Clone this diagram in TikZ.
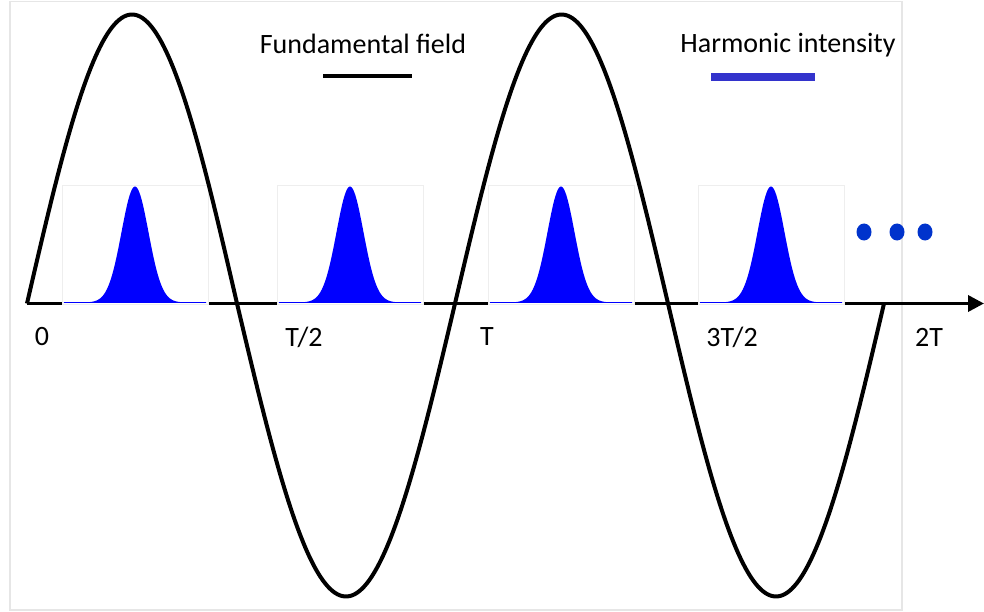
\documentclass[tikz,border=0pt]{standalone}
\usepackage{fontspec}
\setmainfont{Carlito}
\usetikzlibrary{arrows.meta}
\definecolor{pulseblue}{HTML}{0000FF}
\definecolor{legblue}{HTML}{3333CC}
\definecolor{dotblue}{HTML}{0033CC}
\definecolor{framegray}{HTML}{E6E6E6}
\definecolor{boxgray}{HTML}{EEEEEE}
\tikzset{
  lbl/.style={font=\fontsize{28}{32}\selectfont, inner sep=0pt, anchor=center},
  wave/.style={line width=4pt, black, line join=round},
  axisline/.style={line width=3.5pt, black, -{Triangle[length=16pt,width=16pt]}},
  pulsebox/.style={draw=boxgray, line width=0.8pt, fill=white, minimum width=146pt, minimum height=119pt, inner sep=0pt, outer sep=0pt},
  bluedot/.style={ellipse, fill=dotblue, minimum width=15pt, minimum height=17pt, inner sep=0pt},
}
\usetikzlibrary{shapes.geometric}
\begin{document}
\begin{tikzpicture}[x=1pt,y=-1pt]
\useasboundingbox (0,0) rectangle (984,612);
% frame
\draw[framegray, line width=1.5pt] (10,1.5) rectangle (902,610);
% axis
\coordinate (o) at (27,303.5);
\coordinate (tip) at (984,303.5);
\draw[axisline] (o) -- (tip);
% pulse boxes
\foreach \c/\n in {135/p1, 350/p2, 561/p3, 771/p4}{
  \node[pulsebox] (\n) at (\c,244.5) {};
  \fill[pulseblue] plot[domain=\c-72:\c+72, samples=120] (\x,{302.5-116*exp(-((\x-\c)/13.5)^2/2)}) -- cycle;
  \draw[pulseblue, line width=1.6pt] (\c-71,302.5) -- (\c+71,302.5);
}
% wave
\draw[wave] plot[domain=27:237, samples=90] (\x,{303.5-289*sin((\x-27)/210*180)})
  -- plot[domain=237:455, samples=90] (\x,{303.5+293*sin((\x-237)/218*180)})
  -- plot[domain=455:668, samples=90] (\x,{303.5-289*sin((\x-455)/213*180)})
  -- plot[domain=668:884, samples=90] (\x,{303.5+293*sin((\x-668)/216*180)});
% dots
\node[bluedot] (d1) at (864,232) {};
\node[bluedot] (d2) at (897,232) {};
\node[bluedot] (d3) at (925,232) {};
% tick labels
\node[lbl] (l0) at (42,337) {0};
\node[lbl] (l1) at (304,337) {T/2};
\node[lbl] (l2) at (487,337) {T};
\node[lbl] (l3) at (732,337) {3T/2};
\node[lbl] (l4) at (929,337) {2T};
% legend
\node[lbl] (lf) at (363,44) {Fundamental field};
\node[lbl] (lh) at (788,45) {Harmonic intensity};
\coordinate (fa) at (323,76.3);
\coordinate (fb) at (412,76.3);
\draw[black, line width=4pt] (fa) -- (fb);
\coordinate (ha) at (711,76.7);
\coordinate (hb) at (815,76.7);
\draw[legblue, line width=8pt] (ha) -- (hb);
\end{tikzpicture}
\end{document}
